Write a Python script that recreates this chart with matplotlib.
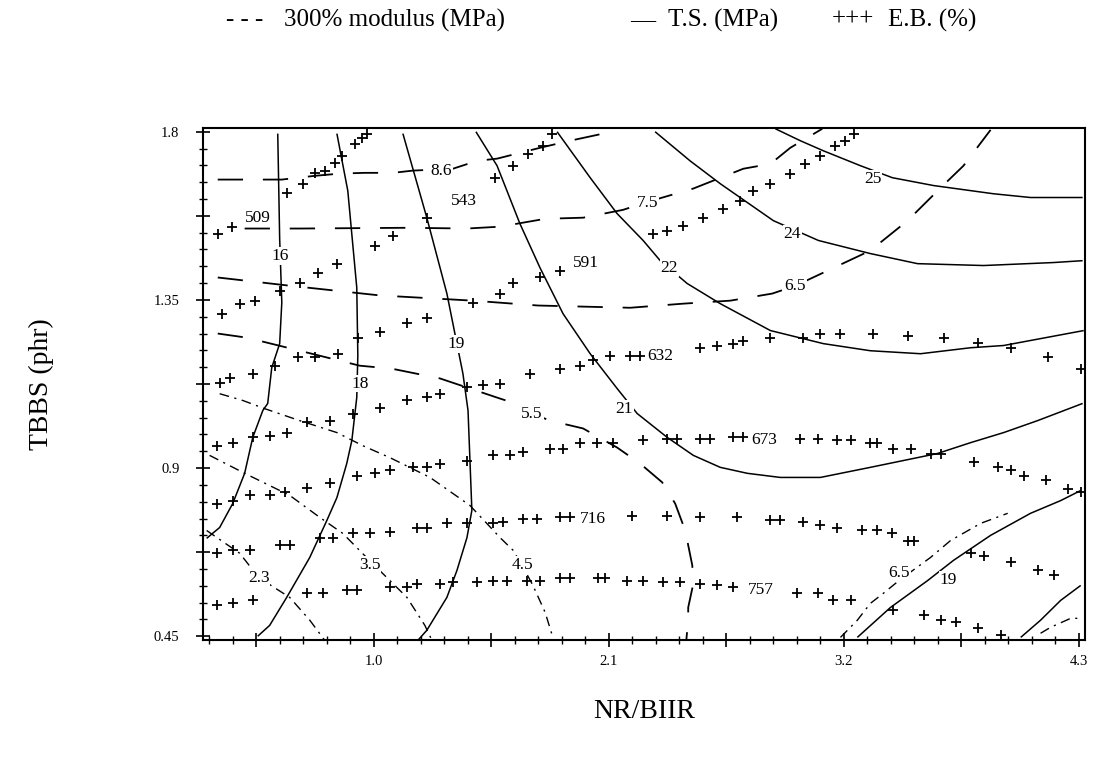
import numpy as np
import matplotlib
matplotlib.use("Agg")
import matplotlib.pyplot as plt

plt.rcParams['font.family'] = ['Liberation Serif', 'DejaVu Serif']

# ---------------- T.S. (MPa) contour lines: solid ----------------
ts_16_x = [0.550, 0.559, 0.569, 0.559, 0.522, 0.503, 0.480, 0.433, 0.395, 0.339, 0.278, 0.217]
ts_16_y = [1.795, 1.514, 1.343, 1.233, 1.169, 1.073, 1.054, 0.982, 0.886, 0.805, 0.741, 0.712]
ts_18_x = [0.827, 0.878, 0.920, 0.925, 0.920, 0.897, 0.873, 0.827, 0.780, 0.700, 0.592, 0.512, 0.456]
ts_18_y = [1.795, 1.642, 1.383, 1.201, 1.089, 0.974, 0.912, 0.821, 0.760, 0.661, 0.554, 0.479, 0.450]
ts_19_x = [1.136, 1.248, 1.342, 1.417, 1.441, 1.459, 1.436, 1.389, 1.342, 1.248, 1.206]
ts_19_y = [1.795, 1.570, 1.367, 1.153, 1.054, 0.787, 0.714, 0.626, 0.554, 0.466, 0.439]
ts_21_x = [1.478, 1.577, 1.684, 1.778, 1.886, 2.013, 2.139, 2.233, 2.374, 2.496, 2.622, 2.749,
           2.903, 3.091, 3.325, 3.639, 3.794, 3.949, 4.108, 4.319]
ts_21_y = [1.800, 1.709, 1.554, 1.436, 1.313, 1.206, 1.113, 1.046, 0.982, 0.934, 0.902, 0.886,
           0.875, 0.875, 0.902, 0.939, 0.968, 0.995, 1.027, 1.073]
ts_22_x = [1.858, 2.013, 2.139, 2.261, 2.341, 2.467, 2.622, 2.857, 3.105, 3.325, 3.560, 3.794, 3.949, 4.324]
ts_22_y = [1.800, 1.677, 1.581, 1.509, 1.455, 1.394, 1.340, 1.268, 1.233, 1.214, 1.206, 1.222, 1.228, 1.268]
ts_24_x = [2.317, 2.481, 2.622, 2.871, 3.082, 3.325, 3.546, 3.855, 4.183, 4.319]
ts_24_y = [1.800, 1.722, 1.661, 1.562, 1.509, 1.474, 1.447, 1.442, 1.450, 1.455]
ts_25_x = [2.880, 2.997, 3.105, 3.279, 3.428, 3.621, 3.902, 4.075, 4.319]
ts_25_y = [1.808, 1.776, 1.749, 1.709, 1.677, 1.656, 1.634, 1.624, 1.624]
ts_19b_x = [3.264, 3.419, 3.593, 3.714, 3.888, 4.075, 4.216, 4.310]
ts_19b_y = [0.447, 0.527, 0.599, 0.653, 0.720, 0.779, 0.813, 0.840]
ts_18b_x = [4.029, 4.122, 4.216, 4.310]
ts_18b_y = [0.447, 0.493, 0.546, 0.586]

ts_label_text = ["16", "18", "19", "21", "22", "24", "25", "19"]
ts_label_x = [0.559, 0.934, 1.384, 2.172, 2.383, 2.960, 3.335, 3.691]
ts_label_y = [1.468, 1.126, 1.233, 1.059, 1.436, 1.527, 1.674, 0.600]

# ---------------- 300% modulus (MPa) contour lines: dashed ----------------
mod_86_x = [0.269, 0.569, 0.723, 0.841, 0.958, 1.089, 1.183, 1.370, 1.483, 1.577, 1.778, 1.919, 2.074, 2.106]
mod_86_y = [1.672, 1.672, 1.682, 1.688, 1.690, 1.690, 1.696, 1.701, 1.722, 1.728, 1.757, 1.776, 1.795, 1.803]
mod_75_x = [0.395, 0.653, 1.159, 1.436, 1.591, 1.802, 1.980, 2.167, 2.280, 2.496, 2.730, 2.857, 2.950, 3.100]
mod_75_y = [1.541, 1.541, 1.543, 1.541, 1.546, 1.567, 1.570, 1.591, 1.612, 1.648, 1.701, 1.714, 1.757, 1.808]
mod_65_x = [0.269, 0.606, 1.028, 1.464, 1.769, 2.200, 2.449, 2.669, 2.866, 2.974, 3.105, 3.325, 3.499,
            3.654, 3.761, 3.888]
mod_65_y = [1.410, 1.388, 1.362, 1.348, 1.335, 1.329, 1.340, 1.348, 1.367, 1.388, 1.423, 1.482, 1.562,
            1.650, 1.709, 1.805]
mod_55_x = [0.269, 0.405, 0.653, 0.934, 1.084, 1.309, 1.450, 1.591, 1.661, 1.741, 1.825, 1.980, 2.139,
            2.247, 2.350, 2.411, 2.458, 2.491, 2.496, 2.472, 2.472, 2.463]
mod_55_y = [1.260, 1.249, 1.214, 1.174, 1.166, 1.140, 1.113, 1.086, 1.073, 1.046, 1.027, 1.006, 0.955,
            0.912, 0.862, 0.805, 0.733, 0.640, 0.591, 0.527, 0.493, 0.439]
mod_45_x = [0.278, 0.386, 0.489, 0.653, 0.827, 0.948, 1.075, 1.263, 1.450, 1.591, 1.652, 1.694, 1.745,
            1.802, 1.835]
mod_45_y = [1.099, 1.081, 1.059, 1.027, 0.995, 0.960, 0.928, 0.875, 0.800, 0.714, 0.680, 0.640, 0.586,
            0.514, 0.453]
mod_35_x = [0.231, 0.395, 0.606, 0.747, 0.855, 0.981, 1.061, 1.155, 1.239, 1.272]
mod_35_y = [0.934, 0.886, 0.827, 0.768, 0.725, 0.652, 0.607, 0.554, 0.479, 0.439]
mod_23_x = [0.217, 0.372, 0.461, 0.606, 0.700, 0.770]
mod_23_y = [0.733, 0.672, 0.607, 0.554, 0.493, 0.439]
mod_65b_x = [3.185, 3.264, 3.325, 3.386, 3.461, 3.607, 3.700, 3.841, 3.968]
mod_65b_y = [0.447, 0.493, 0.538, 0.565, 0.600, 0.661, 0.706, 0.752, 0.779]
mod_55b_x = [4.122, 4.169, 4.263, 4.310]
mod_55b_y = [0.458, 0.474, 0.498, 0.498]

mod_label_text = ["8.6", "7.5", "6.5", "5.5", "4.5", "3.5", "2.3", "6.5"]
mod_label_x = [1.314, 2.280, 2.974, 1.741, 1.694, 0.981, 0.461, 3.461]
mod_label_y = [1.696, 1.610, 1.388, 1.046, 0.640, 0.640, 0.607, 0.618]

# ---------------- E.B. (%) contour lines: plus markers ----------------
eb_509_x = [0.269, 0.334, 0.592, 0.667, 0.723, 0.770, 0.817, 0.850, 0.911, 0.944, 0.967]
eb_509_y = [1.527, 1.546, 1.637, 1.661, 1.690, 1.696, 1.717, 1.736, 1.768, 1.784, 1.795]
eb_543_x = [0.287, 0.372, 0.442, 0.559, 0.653, 0.737, 0.827, 1.005, 1.089, 1.248, 1.567, 1.652, 1.722,
            1.792, 1.835]
eb_543_y = [1.313, 1.340, 1.348, 1.375, 1.396, 1.423, 1.447, 1.495, 1.522, 1.570, 1.677, 1.709, 1.741,
            1.763, 1.795]
eb_591_x = [0.278, 0.325, 0.433, 0.536, 0.644, 0.723, 0.831, 0.925, 1.028, 1.155, 1.248, 1.464, 1.591,
            1.652, 1.778, 1.872, 2.308, 2.374, 2.449, 2.542, 2.636, 2.716, 2.777, 2.857, 2.950, 3.021,
            3.091, 3.161, 3.208, 3.246]
eb_591_y = [1.129, 1.142, 1.153, 1.174, 1.196, 1.196, 1.206, 1.249, 1.263, 1.287, 1.302, 1.343, 1.367,
            1.394, 1.410, 1.428, 1.527, 1.535, 1.549, 1.570, 1.594, 1.616, 1.642, 1.661, 1.688, 1.714,
            1.736, 1.763, 1.776, 1.795]
eb_632_x = [0.264, 0.339, 0.433, 0.512, 0.592, 0.686, 0.794, 0.902, 1.028, 1.155, 1.248, 1.309, 1.436,
            1.511, 1.591, 1.731, 1.872, 1.966, 2.027, 2.106, 2.200, 2.247, 2.528, 2.608, 2.683, 2.730,
            2.857, 3.011, 3.091, 3.185, 3.339, 3.503, 3.668, 3.827, 3.982, 4.155, 4.310]
eb_632_y = [0.960, 0.968, 0.982, 0.987, 0.995, 1.022, 1.027, 1.046, 1.062, 1.081, 1.089, 1.099, 1.116,
            1.121, 1.126, 1.153, 1.166, 1.174, 1.188, 1.201, 1.201, 1.201, 1.222, 1.228, 1.233, 1.239,
            1.247, 1.249, 1.260, 1.260, 1.260, 1.254, 1.247, 1.236, 1.222, 1.196, 1.166]
eb_673_x = [0.264, 0.339, 0.419, 0.512, 0.583, 0.686, 0.794, 0.920, 1.005, 1.075, 1.183, 1.248, 1.309,
            1.436, 1.558, 1.638, 1.699, 1.825, 1.886, 1.966, 2.045, 2.120, 2.261, 2.374, 2.421, 2.528,
            2.575, 2.683, 2.730, 2.997, 3.082, 3.171, 3.232, 3.325, 3.358, 3.433, 3.513, 3.607, 3.654,
            3.808, 3.921, 3.982, 4.043, 4.146, 4.249, 4.310]
eb_673_y = [0.805, 0.813, 0.827, 0.827, 0.835, 0.848, 0.859, 0.880, 0.888, 0.894, 0.902, 0.902, 0.912,
            0.920, 0.934, 0.934, 0.942, 0.952, 0.952, 0.966, 0.966, 0.966, 0.974, 0.979, 0.979, 0.979,
            0.979, 0.982, 0.982, 0.979, 0.979, 0.974, 0.974, 0.968, 0.968, 0.952, 0.952, 0.939, 0.939,
            0.915, 0.902, 0.894, 0.880, 0.867, 0.845, 0.835]
eb_716_x = [0.264, 0.339, 0.419, 0.559, 0.606, 0.747, 0.808, 0.902, 0.981, 1.075, 1.202, 1.248, 1.342,
            1.436, 1.558, 1.605, 1.699, 1.764, 1.872, 1.919, 2.210, 2.374, 2.528, 2.702, 2.857, 2.903,
            3.011, 3.091, 3.171, 3.288, 3.358, 3.428, 3.499, 3.527, 3.794, 3.855, 3.982, 4.108, 4.183]
eb_716_y = [0.672, 0.680, 0.680, 0.693, 0.693, 0.714, 0.714, 0.725, 0.725, 0.728, 0.739, 0.739, 0.752,
            0.752, 0.752, 0.755, 0.765, 0.765, 0.768, 0.768, 0.773, 0.773, 0.768, 0.768, 0.760, 0.760,
            0.755, 0.747, 0.741, 0.733, 0.733, 0.725, 0.706, 0.706, 0.674, 0.666, 0.648, 0.626, 0.613]
eb_757_x = [0.264, 0.339, 0.433, 0.686, 0.761, 0.873, 0.920, 1.075, 1.155, 1.202, 1.309, 1.370, 1.483,
            1.558, 1.624, 1.717, 1.778, 1.872, 1.919, 2.050, 2.083, 2.186, 2.261, 2.355, 2.435, 2.528,
            2.608, 2.683, 2.983, 3.082, 3.152, 3.232, 3.433, 3.574, 3.654, 3.724, 3.827, 3.935]
eb_757_y = [0.533, 0.538, 0.546, 0.565, 0.565, 0.573, 0.573, 0.581, 0.581, 0.591, 0.591, 0.594, 0.594,
            0.599, 0.599, 0.599, 0.599, 0.605, 0.605, 0.605, 0.605, 0.599, 0.599, 0.594, 0.594, 0.591,
            0.586, 0.581, 0.565, 0.565, 0.546, 0.546, 0.519, 0.506, 0.493, 0.487, 0.472, 0.453]

eb_label_text = ["509", "543", "591", "632", "673", "716", "757"]
eb_label_x = [0.456, 1.422, 1.994, 2.341, 2.828, 2.027, 2.810]
eb_label_y = [1.570, 1.616, 1.450, 1.201, 0.974, 0.765, 0.573]

# axis ticks
x_major = [0.45, 1.0, 1.55, 2.1, 2.65, 3.2, 3.75, 4.3]
x_labels = ["", "1.0", "", "2.1", "", "3.2", "", "4.3"]
y_major = [0.45, 0.675, 0.9, 1.125, 1.35, 1.575, 1.8]
y_labels = ["0.45", "", "0.9", "", "1.35", "", "1.8"]

W, H = 1101, 765
fig = plt.figure(figsize=(W / 100, H / 100), dpi=100)
ax = fig.add_axes([203 / W, 1 - 640 / H, (1085 - 203) / W, (640 - 128) / H])

ts_lines = [(ts_16_x, ts_16_y), (ts_18_x, ts_18_y), (ts_19_x, ts_19_y), (ts_21_x, ts_21_y),
            (ts_22_x, ts_22_y), (ts_24_x, ts_24_y), (ts_25_x, ts_25_y), (ts_19b_x, ts_19b_y),
            (ts_18b_x, ts_18b_y)]
for xs, ys in ts_lines:
    ax.plot(xs, ys, color='black', lw=1.1, solid_capstyle='butt', zorder=2)

upper_mod = [(mod_86_x, mod_86_y), (mod_75_x, mod_75_y), (mod_65_x, mod_65_y), (mod_55_x, mod_55_y)]
lower_mod = [(mod_45_x, mod_45_y), (mod_35_x, mod_35_y), (mod_23_x, mod_23_y),
             (mod_65b_x, mod_65b_y), (mod_55b_x, mod_55b_y)]
for xs, ys in upper_mod:
    ax.plot(xs, ys, color='black', lw=1.3, dashes=(14, 11), zorder=2)
for xs, ys in lower_mod:
    ax.plot(xs, ys, color='black', lw=1.0, dashes=(7, 4, 1.5, 4), zorder=2)

eb_lines = [(eb_509_x, eb_509_y), (eb_543_x, eb_543_y), (eb_591_x, eb_591_y), (eb_632_x, eb_632_y),
            (eb_673_x, eb_673_y), (eb_716_x, eb_716_y), (eb_757_x, eb_757_y)]
for xs, ys in eb_lines:
    ax.plot(xs, ys, ls='none', marker='+', ms=7, mew=1.3, color='black', zorder=4)

lab_kw = dict(ha='center', va='center', fontsize=12.5, color='black', zorder=3,
              bbox=dict(fc='white', ec='none', pad=0.6))
for t, x, y in zip(ts_label_text, ts_label_x, ts_label_y):
    ax.text(x, y, t, **lab_kw)
for t, x, y in zip(mod_label_text, mod_label_x, mod_label_y):
    ax.text(x, y, t, **lab_kw)
for t, x, y in zip(eb_label_text, eb_label_x, eb_label_y):
    ax.text(x, y, t, ha='center', va='center', fontsize=12.5, color='black', zorder=3)

ax.set_xlim(0.2, 4.33)
ax.set_ylim(0.44, 1.81)
ax.set_xticks(x_major)
ax.set_xticklabels(x_labels)
ax.set_yticks(y_major)
ax.set_yticklabels(y_labels)
ax.set_xticks(np.arange(0.23, 4.32, 0.11), minor=True)
ax.set_yticks(np.arange(0.45, 1.81, 0.045), minor=True)
ax.tick_params(which='major', direction='inout', length=10, width=1.2, labelsize=10.5)
ax.tick_params(axis='x', which='major', pad=6)
ax.tick_params(axis='y', which='major', pad=12)
ax.tick_params(which='minor', direction='inout', length=6, width=1.0)
for s in ax.spines.values():
    s.set_linewidth(1.5)

ax.set_xlabel("NR/BIIR", fontsize=20, labelpad=22)
ax.set_ylabel("TBBS (phr)", fontsize=20, labelpad=72)

# key line at the top
key_y = 1 - 20 / H
fig.text(226 / W, key_y, "- - -", fontsize=18, va='center', ha='left')
fig.text(284 / W, key_y, "300% modulus (MPa)", fontsize=18, va='center', ha='left')
fig.text(630 / W, key_y, "—", fontsize=18, va='center', ha='left')
fig.text(668 / W, key_y, "T.S. (MPa)", fontsize=18, va='center', ha='left')
fig.text(832 / W, key_y, "+++", fontsize=18, va='center', ha='left')
fig.text(888 / W, key_y, "E.B. (%)", fontsize=18, va='center', ha='left')

fig.savefig("out.png", dpi=100, facecolor='white')
